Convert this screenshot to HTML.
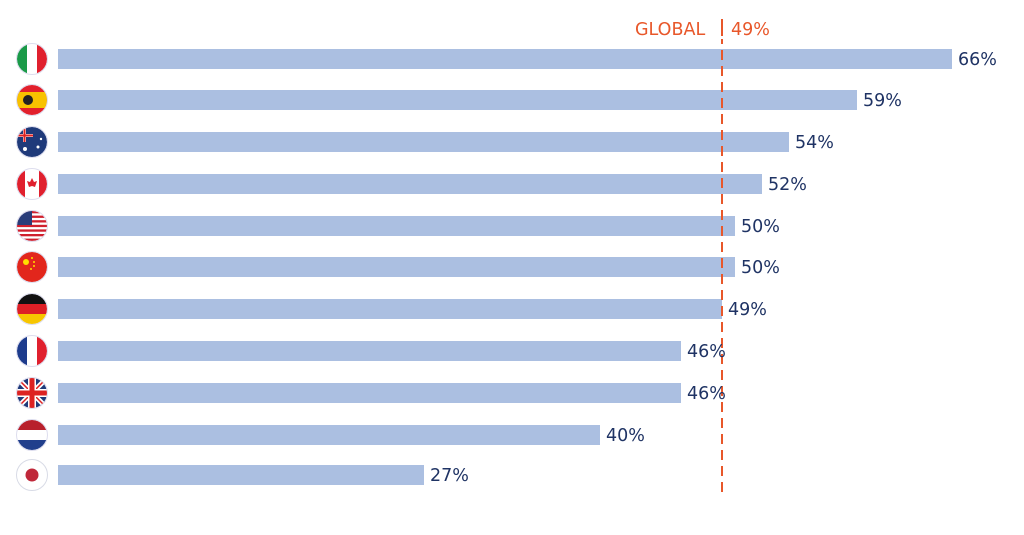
<!DOCTYPE html>
<html><head><style>body{margin:0;background:#fff}svg{display:block}text{font-family:"DejaVu Sans","Liberation Sans",sans-serif}</style></head>
<body>
<svg width="1024" height="535" viewBox="0 0 1024 535" xmlns="http://www.w3.org/2000/svg">
<defs>
<clipPath id="c"><circle cx="0" cy="0" r="15"/></clipPath>
</defs>
<g fill="#abbfe1">
<rect x="58" y="49" width="894" height="20"/>
<rect x="58" y="90" width="799" height="20"/>
<rect x="58" y="132" width="731" height="20"/>
<rect x="58" y="174" width="704" height="20"/>
<rect x="58" y="216" width="677" height="20"/>
<rect x="58" y="257" width="677" height="20"/>
<rect x="58" y="299" width="664" height="20"/>
<rect x="58" y="341" width="623" height="20"/>
<rect x="58" y="383" width="623" height="20"/>
<rect x="58" y="425" width="542" height="20"/>
<rect x="58" y="465" width="366" height="20"/>
</g>
<line x1="722" y1="18" x2="722" y2="497" stroke="#e8572a" stroke-width="2" stroke-dasharray="10,6"/>
<g fill="#1f3364" font-size="17.5">
<text x="958" y="65">66%</text>
<text x="863" y="106">59%</text>
<text x="795" y="148">54%</text>
<text x="768" y="190">52%</text>
<text x="741" y="232">50%</text>
<text x="741" y="273">50%</text>
<text x="728" y="315">49%</text>
<text x="687" y="357">46%</text>
<text x="687" y="399">46%</text>
<text x="606" y="441">40%</text>
<text x="430" y="481">27%</text>
</g>
<rect x="715" y="17" width="14" height="22" fill="#fff"/>
<line x1="722" y1="19" x2="722" y2="36" stroke="#e8572a" stroke-width="2"/>
<text x="635" y="35" fill="#e8572a" font-size="17.5">GLOBAL</text>
<text x="731" y="35" fill="#e8572a" font-size="17.5">49%</text>
<g transform="translate(32,59)"><g clip-path="url(#c)"><rect x="-15" y="-15" width="10" height="30" fill="#1a9a48"/><rect x="-5" y="-15" width="10" height="30" fill="#fff"/><rect x="5" y="-15" width="10" height="30" fill="#e0202e"/></g><circle r="15.5" fill="none" stroke="#dde" stroke-width="1"/></g>
<g transform="translate(32,100)"><g clip-path="url(#c)"><rect x="-15" y="-15" width="30" height="30" fill="#e2202c"/><rect x="-15" y="-8" width="30" height="16" fill="#f8c200"/><circle cx="-4" cy="0" r="5" fill="#222"/></g><circle r="15.5" fill="none" stroke="#dde"/></g>
<g transform="translate(32,142)"><g clip-path="url(#c)"><rect x="-15" y="-15" width="30" height="30" fill="#1f3a7a"/><rect x="-15" y="-8" width="16" height="3" fill="#fff"/><rect x="-9" y="-15" width="3" height="15" fill="#fff"/><rect x="-15" y="-7.5" width="16" height="2" fill="#d22"/><rect x="-8.5" y="-15" width="2" height="15" fill="#d22"/><circle cx="6" cy="5" r="1.5" fill="#fff"/><circle cx="9" cy="-3" r="1.2" fill="#fff"/><circle cx="-7" cy="7" r="2" fill="#fff"/></g><circle r="15.5" fill="none" stroke="#dde"/></g>
<g transform="translate(32,184)"><g clip-path="url(#c)"><rect x="-15" y="-15" width="30" height="30" fill="#fff"/><rect x="-15" y="-15" width="8" height="30" fill="#e0202e"/><rect x="7" y="-15" width="8" height="30" fill="#e0202e"/><path d="M0-6 L2-2 L5-3 L3 3 L0 2 L-3 3 L-5-3 L-2-2Z" fill="#e0202e"/></g><circle r="15.5" fill="none" stroke="#dde"/></g>
<g transform="translate(32,226)"><g clip-path="url(#c)"><rect x="-15" y="-15" width="30" height="30" fill="#fff"/><g fill="#d0202e"><rect x="-15" y="-15" width="30" height="2.3"/><rect x="-15" y="-10.4" width="30" height="2.3"/><rect x="-15" y="-5.8" width="30" height="2.3"/><rect x="-15" y="-1.2" width="30" height="2.3"/><rect x="-15" y="3.4" width="30" height="2.3"/><rect x="-15" y="8" width="30" height="2.3"/><rect x="-15" y="12.6" width="30" height="2.3"/></g><rect x="-15" y="-15" width="15" height="14" fill="#2a3d7a"/></g><circle r="15.5" fill="none" stroke="#dde"/></g>
<g transform="translate(32,267)"><g clip-path="url(#c)"><rect x="-15" y="-15" width="30" height="30" fill="#e2261c"/><circle cx="-6" cy="-5" r="3" fill="#ffde00"/><circle cx="0" cy="-9" r="1" fill="#ffde00"/><circle cx="2" cy="-5" r="1" fill="#ffde00"/><circle cx="2" cy="-1" r="1" fill="#ffde00"/><circle cx="-1" cy="2" r="1" fill="#ffde00"/></g><circle r="15.5" fill="none" stroke="#dde"/></g>
<g transform="translate(32,309)"><g clip-path="url(#c)"><rect x="-15" y="-15" width="30" height="10" fill="#111"/><rect x="-15" y="-5" width="30" height="10" fill="#dd1f26"/><rect x="-15" y="5" width="30" height="10" fill="#f7c600"/></g><circle r="15.5" fill="none" stroke="#dde"/></g>
<g transform="translate(32,351)"><g clip-path="url(#c)"><rect x="-15" y="-15" width="10" height="30" fill="#1d3b8c"/><rect x="-5" y="-15" width="10" height="30" fill="#fff"/><rect x="5" y="-15" width="10" height="30" fill="#e0202e"/></g><circle r="15.5" fill="none" stroke="#dde"/></g>
<g transform="translate(32,393)"><g clip-path="url(#c)"><rect x="-15" y="-15" width="30" height="30" fill="#1f3a7a"/><path d="M-15-15L15 15M15-15L-15 15" stroke="#fff" stroke-width="5"/><path d="M-15-15L15 15M15-15L-15 15" stroke="#d22" stroke-width="1.5"/><rect x="-15" y="-4" width="30" height="8" fill="#fff"/><rect x="-4" y="-15" width="8" height="30" fill="#fff"/><rect x="-15" y="-2.5" width="30" height="5" fill="#d22"/><rect x="-2.5" y="-15" width="5" height="30" fill="#d22"/></g><circle r="15.5" fill="none" stroke="#dde"/></g>
<g transform="translate(32,435)"><g clip-path="url(#c)"><rect x="-15" y="-15" width="30" height="10" fill="#b8202c"/><rect x="-15" y="-5" width="30" height="10" fill="#fff"/><rect x="-15" y="5" width="30" height="10" fill="#213f8c"/></g><circle r="15.5" fill="none" stroke="#dde"/></g>
<g transform="translate(32,475)"><circle r="15" fill="#fff"/><circle r="6.5" fill="#c0283a"/><circle r="15.5" fill="none" stroke="#d8dbe6"/></g>
</svg>
</body></html>
